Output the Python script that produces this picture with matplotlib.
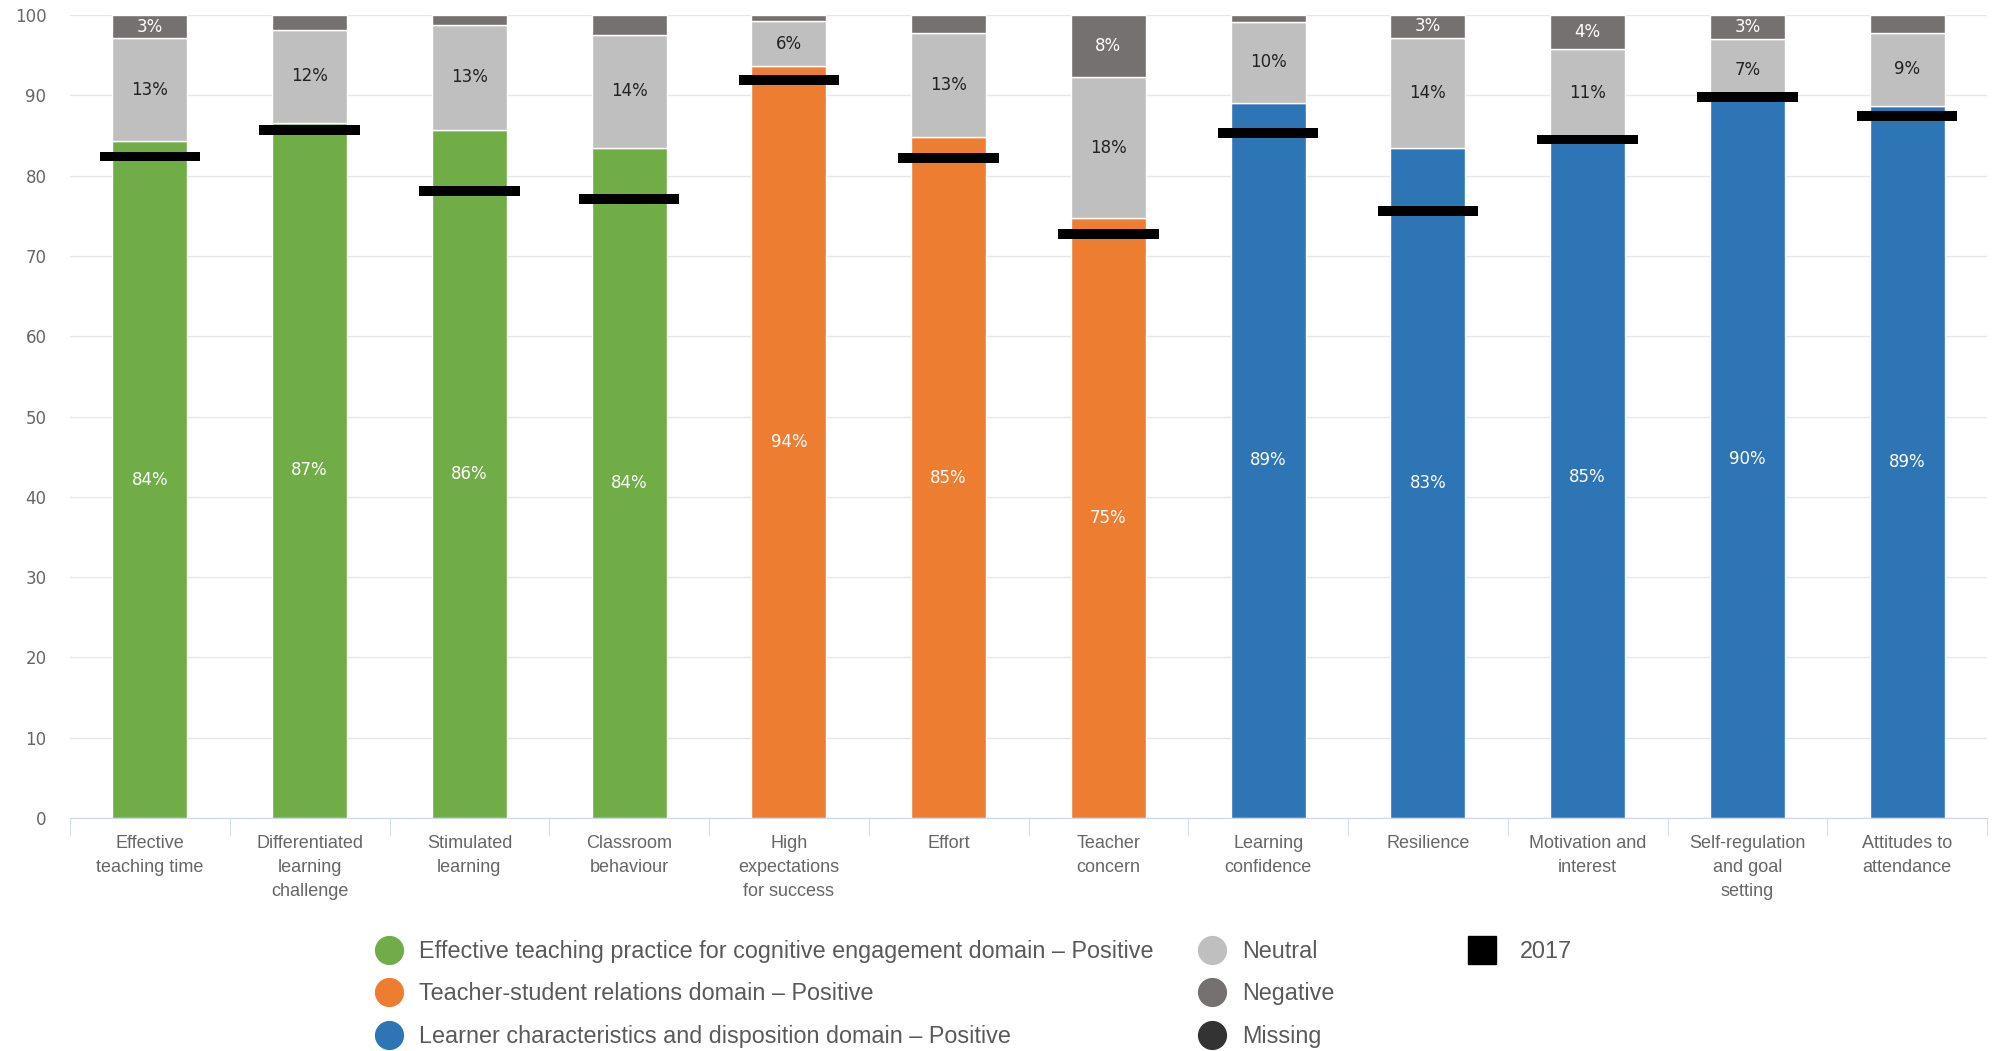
import numpy as np
from matplotlib import pyplot as plt
from matplotlib.lines import Line2D

categories = ["Effective\nteaching time", "Differentiated\nlearning\nchallenge", "Stimulated\nlearning",
              "Classroom\nbehaviour", "High\nexpectations\nfor success", "Effort", "Teacher\nconcern",
              "Learning\nconfidence", "Resilience", "Motivation and\ninterest", "Self-regulation\nand goal\nsetting",
              "Attitudes to\nattendance"]
domain = [0, 0, 0, 0, 1, 1, 1, 2, 2, 2, 2, 2]

positive = [84.3, 86.6, 85.7, 83.5, 93.6, 84.8, 74.7, 89.1, 83.4, 84.9, 89.4, 88.7]
neutral = [12.8, 11.5, 13.1, 14.0, 5.7, 13.0, 17.6, 10.0, 13.8, 10.9, 7.6, 9.1]
negative = [2.9, 1.9, 1.2, 2.5, 0.7, 2.2, 7.7, 0.9, 2.8, 4.2, 3.0, 2.2]
missing = [0, 0, 0, 0, 0, 0, 0, 0, 0, 0, 0, 0]
y2017 = [82.4, 85.7, 78.1, 77.1, 91.9, 82.2, 72.7, 85.3, 75.6, 84.5, 89.8, 87.4]

pos_labels = ["84%", "87%", "86%", "84%", "94%", "85%", "75%", "89%", "83%", "85%", "90%", "89%"]
neu_labels = ["13%", "12%", "13%", "14%", "6%", "13%", "18%", "10%", "14%", "11%", "7%", "9%"]
neg_labels = ["3%", "", "", "", "", "", "8%", "", "3%", "4%", "3%", ""]

domain_names = ["Effective teaching practice for cognitive engagement domain \u2013 Positive",
                "Teacher-student relations domain \u2013 Positive",
                "Learner characteristics and disposition domain \u2013 Positive"]
domain_colors = ["#70AD47", "#ED7D31", "#2E75B6"]
c_neu, c_neg, c_mis = "#BFBFBF", "#767171", "#333333"

fig = plt.figure(figsize=(19.95, 10.51), dpi=100)
ax = fig.add_axes([0.0351, 0.2217, 0.9609, 0.764])

x = np.arange(len(categories))
pos = np.array(positive)
neu = np.array(neutral)
neg = np.array(negative)
w = 0.47
cols = [domain_colors[d] for d in domain]
ax.bar(x, pos, w, color=cols, edgecolor="white", linewidth=1, zorder=2)
ax.bar(x, neu, w, bottom=pos, color=c_neu, edgecolor="white", linewidth=1, zorder=2)
ax.bar(x, neg, w, bottom=pos + neu, color=c_neg, edgecolor="white", linewidth=1, zorder=2)
ax.bar(x, missing, w, bottom=pos + neu + neg, color=c_mis, linewidth=0, zorder=2)
# 2017 markers
ax.bar(x, 1.2, 0.63, bottom=np.array(y2017) - 0.6, color="black", zorder=3)

lab_font = dict(fontsize=12, ha="center", va="center", zorder=4)
for i in range(len(x)):
    ax.text(x[i], pos[i] / 2, pos_labels[i], color="white", **lab_font)
    ax.text(x[i], pos[i] + neu[i] / 2, neu_labels[i], color="#222222", **lab_font)
    if neg_labels[i]:
        ax.text(x[i], pos[i] + neu[i] + neg[i] / 2, neg_labels[i], color="white", **lab_font)

ax.set_xlim(-0.5, len(x) - 0.5)
ax.set_ylim(0, 100)
ax.set_yticks(range(0, 101, 10))
ax.grid(axis="y", color="#E6E6E6", linewidth=1, zorder=0)
ax.set_axisbelow(True)
for s in ["top", "right", "left"]:
    ax.spines[s].set_visible(False)
ax.spines["bottom"].set_color("#CCD6EB")
ax.tick_params(axis="y", length=0, pad=17, labelsize=12, labelcolor="#666666")
ax.set_xticks(x)
ax.set_xticklabels(categories, fontsize=13, color="#666666", linespacing=1.55,
                   family=["Liberation Sans Narrow", "Liberation Sans"])
ax.tick_params(axis="x", which="major", length=0, pad=12)
ax.set_xticks(np.arange(-0.5, len(x), 1), minor=True)
ax.tick_params(axis="x", which="minor", length=13, color="#CCD6EB")
for t in ax.get_yticklabels():
    t.set_ha("right")

def circ(c):
    return Line2D([], [], marker="o", linestyle="", markersize=20, markerfacecolor=c, markeredgecolor=c)

leg_kw = dict(loc="upper left", frameon=False, labelcolor="#595959", handletextpad=0.3,
              labelspacing=0.84, borderpad=0, prop={"family": "Liberation Sans", "size": 16.8})
fig.legend([circ(c) for c in domain_colors], domain_names, bbox_to_anchor=(0.1775, 0.117), **leg_kw)
fig.legend([circ(c_neu), circ(c_neg), circ(c_mis)], ["Neutral", "Negative", "Missing"],
           bbox_to_anchor=(0.590, 0.117), **leg_kw)
sq = Line2D([], [], marker="s", linestyle="", markersize=20, markerfacecolor="black", markeredgecolor="black")
leg_kw["handletextpad"] = 0.6
fig.legend([sq], ["2017"], bbox_to_anchor=(0.7255, 0.117), **leg_kw)

fig.savefig("out.png", dpi=100)
